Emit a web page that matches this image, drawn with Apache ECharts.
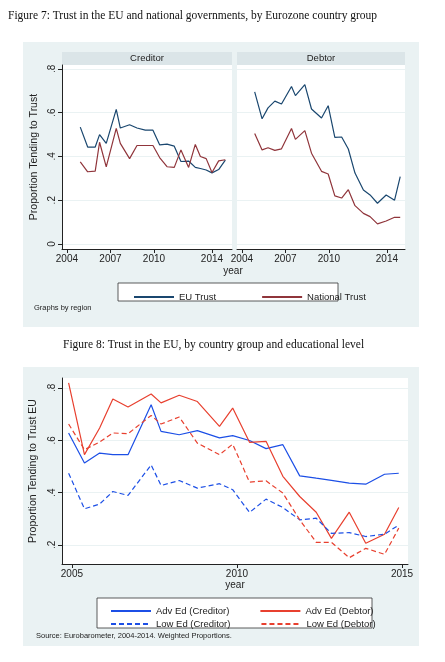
<!DOCTYPE html>
<html><head><meta charset="utf-8">
<script src="https://cdn.jsdelivr.net/npm/echarts@6/dist/echarts.min.js"></script>
<style>html,body{margin:0;padding:0;background:#fff}#c{width:445px;height:662px}</style>
</head><body><div id="c"></div>
<script>
// Figure 7 data
const credYears=[2004.92,2005.43,2005.95,2006.25,2006.71,2007.4,2007.68,2008.32,2008.83,2009.4,2009.93,2010.39,2010.9,2011.4,2011.86,2012.39,2012.85,2013.2,2013.6,2014.0,2014.46,2014.92];
const credEU=[.534,.443,.443,.50,.46,.615,.53,.545,.53,.52,.52,.453,.456,.447,.377,.379,.35,.345,.338,.325,.34,.383];
const credNat=[.375,.33,.333,.465,.352,.528,.46,.39,.45,.45,.45,.395,.353,.35,.43,.35,.455,.40,.39,.327,.38,.385];
const debtYears=[2004.88,2005.39,2005.8,2006.27,2006.73,2007.42,2007.69,2008.34,2008.8,2009.49,2009.95,2010.41,2010.88,2011.34,2011.8,2012.38,2012.84,2013.35,2013.95,2014.53,2014.92];
const debtEU=[.695,.572,.622,.653,.64,.72,.678,.728,.617,.576,.632,.487,.489,.434,.324,.247,.224,.186,.224,.2,.308];
const debtNat=[.505,.43,.44,.428,.435,.528,.478,.518,.415,.332,.32,.22,.21,.248,.175,.14,.125,.092,.105,.122,.122];
// Figure 8 data
const edYears=[2004.9,2005.38,2005.84,2006.24,2006.7,2007.4,2007.7,2008.25,2008.8,2009.47,2009.87,2010.38,2010.88,2011.39,2011.9,2012.4,2012.86,2013.4,2013.9,2014.47,2014.9];
const advCred=[.628,.513,.551,.545,.545,.736,.634,.621,.637,.609,.618,.599,.568,.583,.464,.455,.447,.436,.432,.47,.474];
const advDebt=[.819,.545,.647,.758,.727,.777,.743,.772,.748,.653,.723,.592,.596,.462,.385,.325,.225,.325,.206,.241,.343];
const lowCred=[.474,.338,.356,.404,.389,.506,.427,.446,.417,.434,.411,.324,.375,.343,.296,.302,.244,.247,.232,.241,.276];
const lowDebt=[.662,.564,.593,.628,.625,.695,.662,.689,.589,.545,.585,.44,.445,.398,.296,.21,.21,.151,.187,.164,.264];
const topYTicks=[0,.2,.4,.6,.8];
const topXTicks=[2004,2007,2010,2014];
const botYTicks=[.2,.4,.6,.8];
const botXTicks=[2005,2010,2015];

const zip=(x,y)=>x.map((v,i)=>[v,y[i]]);
const fmt=v=>v===0?'0':String(v).replace(/^0/,'');
const F='Liberation Sans, Arial, sans-serif';
const SERIF='Liberation Serif, DejaVu Serif, serif';
const grid='#eaf2f3';
const NAVY='#1a476f', MAROON='#90353b', BLUE='#1c4fe6', RED='#e8402f';
const SOLID='path://M0,0h40v1.3h-40z';
const DASH='path://M0,0h6v1.3h-6zM9,0h6v1.3h-6zM18,0h6v1.3h-6zM27,0h6v1.3h-6zM36,0h4v1.3h-4z';

function xAx(gi,min,max,ticks,name){
  return {type:'value',gridIndex:gi,min,max,
    axisLine:{show:true,onZero:false,lineStyle:{color:'#222'}},
    axisTick:{show:true,customValues:ticks,length:4,lineStyle:{color:'#222'}},
    axisLabel:{show:true,customValues:ticks,formatter:v=>String(v),color:'#222',fontSize:10,fontFamily:F,margin:5},
    splitLine:{show:false},name:name||'',nameLocation:'middle',nameGap:15,
    nameTextStyle:{color:'#222',fontSize:10,fontFamily:F}};
}
function yAx(gi,min,max,ticks,labels,name){
  return {type:'value',gridIndex:gi,min,max,
    axisLine:{show:labels,lineStyle:{color:'#222'}},
    axisTick:{show:labels,customValues:ticks,length:4,lineStyle:{color:'#222'}},
    axisLabel:{show:labels,customValues:ticks,formatter:fmt,rotate:90,color:'#222',fontSize:10,fontFamily:F,margin:5},
    splitLine:{show:true,lineStyle:{color:grid,width:1}},
    name:name||'',nameLocation:'middle',nameGap:22,nameTextStyle:{color:'#222',fontSize:10.5,fontFamily:F}};
}
function line(name,xi,data,color,dash){
  return {type:'line',name,xAxisIndex:xi,yAxisIndex:xi,data,symbol:'none',legendIcon:dash?DASH:SOLID,
    lineStyle:{color,width:1.2,type:dash?[5,3]:'solid'},itemStyle:{color},animation:false};
}
const lg=(data,left,top,gap)=>({data,left,top,itemGap:gap,itemWidth:40,itemHeight:2,
  textStyle:{fontSize:9.5,fontFamily:F,color:'#222'}});
const chart=echarts.init(document.getElementById('c'),null,{renderer:'canvas'});
chart.setOption({
  animation:false,
  graphic:[
    {type:'text',left:8,top:10,style:{text:'Figure 7: Trust in the EU and national governments, by Eurozone country group',font:'11.5px '+SERIF,fill:'#111'}},
    {type:'rect',shape:{x:23,y:42,width:396,height:285},style:{fill:'#eaf2f3'},z:-10},
    {type:'rect',shape:{x:62,y:52,width:170,height:197},style:{fill:'#fff'},z:-9},
    {type:'rect',shape:{x:237,y:52,width:168,height:197},style:{fill:'#fff'},z:-9},
    {type:'rect',shape:{x:62,y:52,width:170,height:13},style:{fill:'#dbe5e8'},z:-8},
    {type:'rect',shape:{x:237,y:52,width:168,height:13},style:{fill:'#dbe5e8'},z:-8},
    {type:'text',x:147,y:58,style:{text:'Creditor',font:'9.5px '+F,fill:'#222',align:'center',verticalAlign:'middle'}},
    {type:'text',x:321,y:58,style:{text:'Debtor',font:'9.5px '+F,fill:'#222',align:'center',verticalAlign:'middle'}},
    {type:'text',x:233,y:271,style:{text:'year',font:'10px '+F,fill:'#222',align:'center',verticalAlign:'middle'}},
    {type:'rect',shape:{x:118,y:283,width:220,height:18},style:{fill:'#fff',stroke:'#333',lineWidth:0.8},z:-5},
    {type:'text',left:34,top:304,style:{text:'Graphs by region',font:'7.5px '+F,fill:'#222'}},
    {type:'text',left:63,top:339,style:{text:'Figure 8: Trust in the EU, by country group and educational level',font:'11.5px '+SERIF,fill:'#111'}},
    {type:'rect',shape:{x:23,y:367,width:396,height:279},style:{fill:'#eaf2f3'},z:-10},
    {type:'rect',shape:{x:62,y:378,width:346,height:186},style:{fill:'#fff'},z:-9},
    {type:'rect',shape:{x:97,y:598,width:275,height:30},style:{fill:'#fff',stroke:'#333',lineWidth:0.8},z:-5},
    {type:'text',left:36,top:632,style:{text:'Source: Eurobarometer, 2004-2014. Weighted Proportions.',font:'7.5px '+F,fill:'#222'}}
  ],
  grid:[
    {left:62,top:65,width:170,height:184},
    {left:237,top:65,width:168,height:184},
    {left:62,top:378,width:346,height:186}
  ],
  xAxis:[
    xAx(0,2003.66,2015.38,topXTicks),
    xAx(1,2003.66,2015.25,topXTicks),
    xAx(2,2004.7,2015.18,botXTicks,'year')
  ],
  yAxis:[
    yAx(0,-0.023,0.818,topYTicks,true,'Proportion Tending to Trust'),
    yAx(1,-0.023,0.818,topYTicks,false),
    yAx(2,0.127,0.838,botYTicks,true,'Proportion Tending to Trust EU')
  ],
  legend:[
    lg(['EU Trust','National Trust'],128,287,45),
    lg(['Adv Ed (Creditor)','Adv Ed (Debtor)'],105,601,30),
    lg(['Low Ed (Creditor)','Low Ed (Debtor)'],105,614,30)
  ],
  series:[
    line('EU Trust',0,zip(credYears,credEU),NAVY),
    line('National Trust',0,zip(credYears,credNat),MAROON),
    line('EU Trust',1,zip(debtYears,debtEU),NAVY),
    line('National Trust',1,zip(debtYears,debtNat),MAROON),
    line('Adv Ed (Creditor)',2,zip(edYears,advCred),BLUE),
    line('Adv Ed (Debtor)',2,zip(edYears,advDebt),RED),
    line('Low Ed (Creditor)',2,zip(edYears,lowCred),BLUE,true),
    line('Low Ed (Debtor)',2,zip(edYears,lowDebt),RED,true)
  ]
});
</script></body></html>
